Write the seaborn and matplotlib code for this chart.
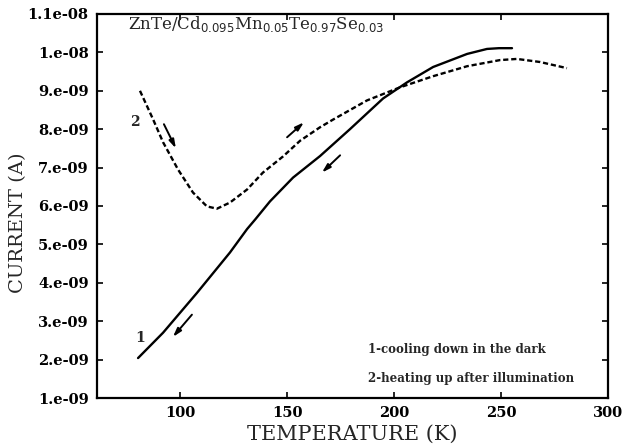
import matplotlib
matplotlib.use("Agg")
import matplotlib.pyplot as plt
import seaborn as sns
import numpy as np
from matplotlib.ticker import FixedLocator, FixedFormatter

# ---- data (temperature K, current in units of 1e-9 A) ----
t_cool = [80.2, 91.9, 107.8, 123.2, 131.2, 135.0, 141.9, 152.7, 165.3, 179.3, 194.8,
          206.0, 218.2, 234.1, 243.4, 249.0, 255.1]
i_cool = [2.04, 2.70, 3.74, 4.79, 5.40, 5.65, 6.12, 6.74, 7.30, 8.00, 8.80,
          9.22, 9.62, 9.96, 10.09, 10.11, 10.11]

t_heat = [81.1, 87.2, 91.9, 98.9, 105.9, 112.4, 117.1, 123.2, 131.2, 138.6,
          148.0, 156.0, 165.3, 171.4, 187.3, 202.7, 218.2, 234.1, 249.5,
          257.4, 268.2, 280.8]
i_heat = [9.00, 8.26, 7.66, 6.95, 6.35, 5.99, 5.93, 6.09, 6.43, 6.87,
          7.29, 7.70, 8.05, 8.25, 8.75, 9.09, 9.38, 9.64, 9.80,
          9.83, 9.75, 9.59]

# direction arrows: (start T, start I, end T, end I)
arrows = [(92.3, 8.13, 97.9, 7.50),
          (149.9, 7.79, 157.8, 8.18),
          (174.7, 7.32, 166.2, 6.87),
          (105.4, 3.17, 96.5, 2.59)]

x_ticks = [100, 150, 200, 250, 300]
y_ticks = [1, 2, 3, 4, 5, 6, 7, 8, 9, 10, 11]
y_tick_labels = ["1.e-09", "2.e-09", "3.e-09", "4.e-09", "5.e-09", "6.e-09",
                 "7.e-09", "8.e-09", "9.e-09", "1.e-08", "1.1e-08"]

title_text = r"ZnTe/Cd$_{0.095}$Mn$_{0.05}$Te$_{0.97}$Se$_{0.03}$"
legend_1 = "1-cooling down in the dark"
legend_2 = "2-heating up after illumination"

# ---- style ----
sns.set_style("ticks")
plt.rcParams["font.family"] = ["DejaVu Serif", "DejaVu Sans"]
plt.rcParams["mathtext.fontset"] = "dejavusans"

fig = plt.figure(figsize=(6.23, 4.47), dpi=100)
ax = fig.add_axes([97 / 623, 1 - 398 / 447, 511 / 623, 384 / 447])

sns.lineplot(x=t_cool, y=i_cool, ax=ax, color="black", linewidth=1.7,
             sort=False, estimator=None)
sns.lineplot(x=t_heat, y=i_heat, ax=ax, color="black", linewidth=1.7,
             sort=False, estimator=None, linestyle=(0, (2.2, 1.2)))

for (x0, y0, x1, y1) in arrows:
    ax.annotate("", xy=(x1, y1), xytext=(x0, y0),
                arrowprops=dict(arrowstyle="-|>,head_length=0.5,head_width=0.15",
                                color="black", lw=1.4, shrinkA=0, shrinkB=0))

ax.text(81.1, 2.57, "1", fontsize=10, ha="center", va="center", fontweight="bold")
ax.text(78.8, 8.18, "2", fontsize=10, ha="center", va="center", fontweight="bold")

ax.text(0.061, 0.975, title_text, transform=ax.transAxes, fontsize=12,
        ha="left", va="center")
ax.text(0.53, 0.125, legend_1, transform=ax.transAxes, fontsize=8.5,
        ha="left", va="center", fontweight="bold")
ax.text(0.53, 0.052, legend_2, transform=ax.transAxes, fontsize=8.5,
        ha="left", va="center", fontweight="bold")

ax.set_xlim(61, 300)
ax.set_ylim(1, 11)
ax.xaxis.set_major_locator(FixedLocator(x_ticks))
ax.yaxis.set_major_locator(FixedLocator(y_ticks))
ax.yaxis.set_major_formatter(FixedFormatter(y_tick_labels))
ax.tick_params(direction="in", length=4, width=1.2, top=True, right=True,
               labelsize=10.5, pad=6, colors="black")
for lab in ax.get_xticklabels() + ax.get_yticklabels():
    lab.set_fontweight("bold")

for s in ax.spines.values():
    s.set_linewidth(1.6)
    s.set_color("black")

ax.set_xlabel("TEMPERATURE (K)", fontsize=15, va="center")
ax.set_ylabel("CURRENT (A)", fontsize=14, va="center")
ax.xaxis.set_label_coords(0.5, -0.094)
ax.yaxis.set_label_coords(-0.154, 0.456)

fig.savefig("out.png", dpi=100)
